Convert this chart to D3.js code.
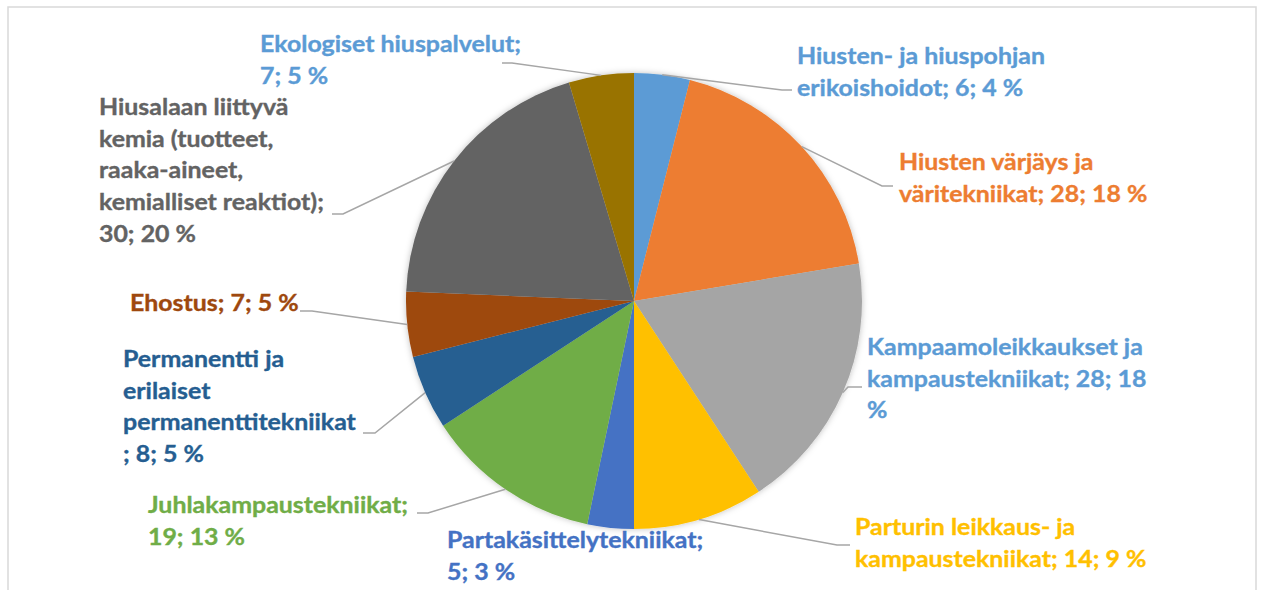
<!DOCTYPE html>
<html>
<head>
<meta charset="utf-8">
<script src="https://cdn.jsdelivr.net/npm/d3@7"></script>
<style>
    body { margin: 0; background: #fff; }
    .label { font-family: Lato, "Open Sans", sans-serif; font-weight: 700; font-size: 22px; stroke-width: 0.35; }
    .leader { fill: none; stroke: #a6a6a6; stroke-width: 1.5; }
    .frame { fill: #fff; stroke: #d9d9d9; stroke-width: 1.5; }
</style>
</head>
<body>
<svg id="chart" width="1261" height="590"></svg>
<script>
// ──── Data ────
const categories = [
    "Hiusten- ja hiuspohjan erikoishoidot",
    "Hiusten värjäys ja väritekniikat",
    "Kampaamoleikkaukset ja kampaustekniikat",
    "Parturin leikkaus- ja kampaustekniikat",
    "Partakäsittelytekniikat",
    "Juhlakampaustekniikat",
    "Permanentti ja erilaiset permanenttitekniikat",
    "Ehostus",
    "Hiusalaan liittyvä kemia (tuotteet, raaka-aineet, kemialliset reaktiot)",
    "Ekologiset hiuspalvelut"
];
const values = [6, 28, 28, 14, 5, 19, 8, 7, 30, 7];

// label text as wrapped in the original (lines)
const labelLines = [
    ["Hiusten- ja hiuspohjan", "erikoishoidot; 6; 4 %"],
    ["Hiusten värjäys ja", "väritekniikat; 28; 18 %"],
    ["Kampaamoleikkaukset ja", "kampaustekniikat; 28; 18", "%"],
    ["Parturin leikkaus- ja", "kampaustekniikat; 14; 9 %"],
    ["Partakäsittelytekniikat;", "5; 3 %"],
    ["Juhlakampaustekniikat;", "19; 13 %"],
    ["Permanentti ja", "erilaiset", "permanenttitekniikat", "; 8; 5 %"],
    ["Ehostus; 7; 5 %"],
    ["Hiusalaan liittyvä", "kemia (tuotteet,", "raaka-aineet,", "kemialliset reaktiot);", "30; 20 %"],
    ["Ekologiset hiuspalvelut;", "7; 5 %"]
];

// ──── Styles ────
const sliceColors = ["#5b9bd5", "#ed7d31", "#a5a5a5", "#ffc000", "#4472c4",
                     "#70ad47", "#255e91", "#9e480e", "#636363", "#997300"];
const labelColors = ["#5b9bd5", "#ed7d31", "#5b9bd5", "#ffc000", "#4472c4",
                     "#70ad47", "#255e91", "#9e480e", "#636363", "#5b9bd5"];

// label placement: left x, first baseline, leader elbow and end (near the text)
const labelLayout = [
    { x: 797, y: 64,  elbow: [782, 90],  end: [792, 90] },
    { x: 899, y: 170, elbow: [882, 186], end: [893, 186] },
    { x: 867, y: 355, elbow: [848, 387], end: [862, 387] },
    { x: 855, y: 535, elbow: [837, 545], end: [850, 545] },
    { x: 447, y: 548, elbow: null, end: null },
    { x: 148, y: 513, elbow: [428, 513], end: [417, 513] },
    { x: 123, y: 367, elbow: [375, 433], end: [363, 433] },
    { x: 130, y: 311, elbow: [312, 311], end: [300, 311] },
    { x: 99,  y: 115, elbow: [343, 214], end: [332, 214] },
    { x: 260, y: 52,  elbow: [512, 63],  end: [502, 63] }
];

const lineHeight = 31.7;
const cx = 634, cy = 301, radius = 228;

const svg = d3.select("#chart");

// Frame
svg.append("rect")
    .attr("class", "frame")
    .attr("x", 8).attr("y", 7)
    .attr("width", 1248).attr("height", 600);

// Soft shadow for the pie
const defs = svg.append("defs");
const shadow = defs.append("filter")
    .attr("id", "soft")
    .attr("x", "-10%").attr("y", "-10%")
    .attr("width", "120%").attr("height", "120%");
shadow.append("feDropShadow")
    .attr("dx", 0).attr("dy", 0)
    .attr("stdDeviation", 3)
    .attr("flood-color", "#000")
    .attr("flood-opacity", 0.25);

const total = d3.sum(values);
const data = categories.map((c, i) => ({ category: c, value: values[i], index: i }));

const pie = d3.pie()
    .sort(null)
    .value(d => d.value);
const arcs = pie(data);

const arc = d3.arc().innerRadius(0).outerRadius(radius);
const edge = d3.arc().innerRadius(radius).outerRadius(radius);

const g = svg.append("g").attr("transform", `translate(${cx}, ${cy})`);

// Leader lines (drawn under the pie)
const leaders = svg.append("g");
arcs.forEach((a, i) => {
    const lay = labelLayout[i];
    if (!lay.elbow) return;
    const [px, py] = edge.centroid(a);
    leaders.append("path")
        .attr("class", "leader")
        .attr("d", d3.line()([[cx + px, cy + py], lay.elbow, lay.end]));
});

// Slices
g.append("g")
    .attr("filter", "url(#soft)")
    .selectAll("path")
    .data(arcs)
    .join("path")
    .attr("d", arc)
    .attr("fill", d => sliceColors[d.data.index]);

// Labels
const labels = svg.append("g");

// squeeze the substitute font to the original label widths
const probe = labels.append("text").attr("class", "label").text("Kampaamoleikkaukset ja");
const squeeze = 276 / probe.node().getComputedTextLength();
probe.remove();

arcs.forEach((a, i) => {
    const lay = labelLayout[i];
    const pct = Math.round(a.data.value / total * 100);
    const t = labels.append("text")
        .attr("class", "label")
        .attr("fill", labelColors[i])
        .attr("stroke", labelColors[i])
        .attr("transform", `translate(${lay.x}, ${lay.y}) scale(${squeeze}, 1)`)
        .attr("data-pct", pct);
    labelLines[i].forEach((line, j) => {
        t.append("tspan")
            .attr("x", 0)
            .attr("y", j * lineHeight)
            .text(line);
    });
});
</script>
</body>
</html>
